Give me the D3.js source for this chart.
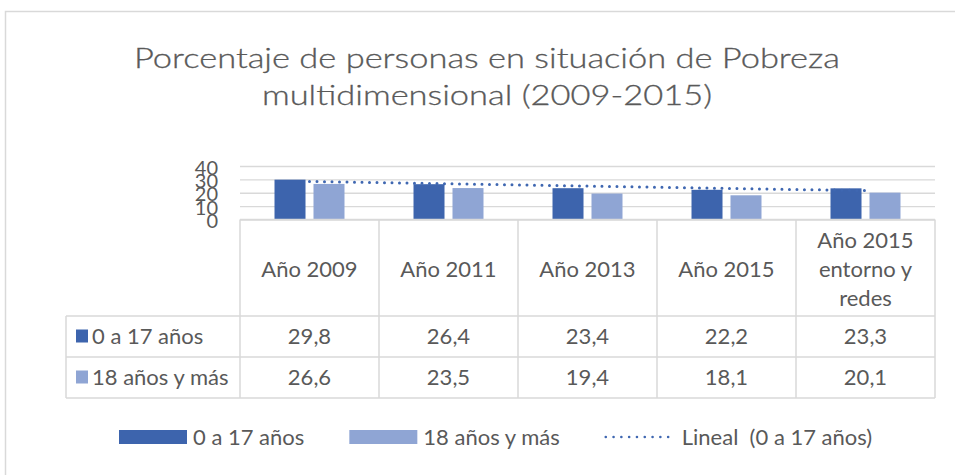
<!DOCTYPE html>
<html>
<head>
<meta charset="utf-8">
<script src="https://cdn.jsdelivr.net/npm/d3@7"></script>
<style>
  body { margin: 0; background: #fff; }
  text { font-family: Lato, sans-serif; fill: #595959; }
</style>
</head>
<body>
<svg width="955" height="475"></svg>
<script>

let categories = ['Año 2009', 'Año 2011', 'Año 2013', 'Año 2015', 'Año 2015 entorno y redes'];
let seriesNames = ['0 a 17 años', '18 años y más'];
let youngValues = [29.8, 26.4, 23.4, 22.2, 23.3];
let adultValues = [26.6, 23.5, 19.4, 18.1, 20.1];
let yTicks = [0, 10, 20, 30, 40];
let trendName = 'Lineal  (0 a 17 años)';
let titleLines = ['Porcentaje de personas en situación de Pobreza', 'multidimensional (2009-2015)'];

let colors = ['#3d64ad', '#8fa5d4'];
let lineColor = '#d9d9d9';

let svg = d3.select('svg');
let fmt = d3.formatLocale({decimal: ',', thousands: '.', grouping: [3], currency: ['', '']}).format('.1f');

// chart frame
svg.append('rect')
   .attr('x', 5.5)
   .attr('y', 11.5)
   .attr('width', 1000)
   .attr('height', 500)
   .attr('fill', 'none')
   .attr('stroke', lineColor)
   .attr('stroke-width', 1.5);

// title, stretched a little to the width of the original
let titles = svg.append('g')
                .selectAll('text')
                .data(titleLines)
                .join('text')
                .attr('x', 487)
                .attr('y', (d, i) => 68 + i * 37)
                .attr('text-anchor', 'middle')
                .style('font-size', '27px')
                .style('font-weight', 300)
                .attr('stroke', '#595959')
                .attr('stroke-width', 0.3)
                .text(d => d);

let stretch = 706 / titles.nodes()[0].getComputedTextLength();
titles.each(function() {
  let len = this.getComputedTextLength();
  d3.select(this)
    .attr('textLength', len * stretch)
    .attr('lengthAdjust', 'spacingAndGlyphs');
});

let xScale = d3.scaleBand()
               .domain(categories)
               .range([240, 935]);

let xInner = d3.scaleBand()
               .domain(seriesNames)
               .range([0, xScale.bandwidth()])
               .paddingInner(0.205)
               .paddingOuter(0.885);

let yScale = d3.scaleLinear()
               .domain([0, 40])
               .range([219.5, 166]);

let yAxis = d3.axisLeft(yScale)
              .tickValues(yTicks)
              .tickSize(-(935 - 240))
              .tickPadding(22)
              .tickFormat(d3.format('d'));

let yAxisG = svg.append('g')
                .attr('id', 'yAxisG')
                .attr('transform', 'translate(240,0)')
                .call(yAxis);

yAxisG.select('.domain').remove();
yAxisG.attr('font-family', null).attr('font-size', null);
yAxisG.selectAll('line').attr('stroke', lineColor).attr('stroke-width', 1.3);
yAxisG.selectAll('text').style('font-size', '20px').attr('fill', '#595959').attr('dy', '0.4em');

// bars
let seriesData = [youngValues, adultValues];
seriesData.forEach(function(values, s) {
  svg.append('g')
     .selectAll('rect')
     .data(values)
     .join('rect')
     .attr('x', (d, i) => xScale(categories[i]) + xInner(seriesNames[s]))
     .attr('y', d => yScale(d))
     .attr('width', xInner.bandwidth())
     .attr('height', d => yScale(0) - yScale(d))
     .attr('fill', colors[s]);
});

// linear trend of first series
let n = youngValues.length;
let meanX = (n + 1) / 2;
let meanY = d3.mean(youngValues);
let slope = d3.sum(youngValues, (v, i) => (i + 1 - meanX) * (v - meanY)) /
            d3.sum(youngValues, (v, i) => (i + 1 - meanX) * (i + 1 - meanX));
let trend = [1, n].map(k => ({k: k, v: meanY + slope * (k - meanX)}));

let trendLine = d3.line()
                  .x(d => xScale(categories[d.k - 1]) + xScale.bandwidth() / 2)
                  .y(d => yScale(d.v));

svg.append('path')
   .attr('d', trendLine(trend))
   .attr('fill', 'none')
   .attr('stroke', '#3f67b1')
   .attr('stroke-width', 3)
   .attr('stroke-linecap', 'round')
   .attr('stroke-dasharray', '0 7.5');

// data table
let headerBottom = 316;
let rowH = 41;
let keyLeft = 66;
let tableRight = 935;
let tableTop = yScale(0);
let tableBottom = headerBottom + rowH * seriesNames.length;

let grid = svg.append('g')
              .attr('stroke', lineColor)
              .attr('stroke-width', 1.5);

grid.append('line')
    .attr('x1', 240).attr('x2', tableRight)
    .attr('y1', tableTop).attr('y2', tableTop);

[0, 1, 2].forEach(function(r) {
  grid.append('line')
      .attr('x1', keyLeft).attr('x2', tableRight)
      .attr('y1', headerBottom + r * rowH).attr('y2', headerBottom + r * rowH);
});

categories.concat(['end']).forEach(function(c) {
  let x = c == 'end' ? tableRight : xScale(c);
  grid.append('line')
      .attr('x1', x).attr('x2', x)
      .attr('y1', tableTop).attr('y2', tableBottom);
});

grid.append('line')
    .attr('x1', keyLeft).attr('x2', keyLeft)
    .attr('y1', headerBottom).attr('y2', tableBottom);

// header labels, wrapped to the column
let headerG = svg.append('g').style('font-size', '22px');
categories.forEach(function(c) {
  let t = headerG.append('text')
                 .attr('x', xScale(c) + xScale.bandwidth() / 2)
                 .attr('text-anchor', 'middle');
  let words = c.split(' ');
  let lines = [];
  let current = [];
  words.forEach(function(w) {
    let test = current.concat([w]).join(' ');
    t.text(test);
    if (t.node().getComputedTextLength() > xScale.bandwidth() - 14 && current.length) {
      lines.push(current.join(' '));
      current = [w];
    } else {
      current.push(w);
    }
  });
  lines.push(current.join(' '));
  t.text(null);
  let mid = (tableTop + headerBottom) / 2 + 1;
  lines.forEach(function(l, i) {
    t.append('tspan')
     .attr('x', xScale(c) + xScale.bandwidth() / 2)
     .attr('y', mid + (i - (lines.length - 1) / 2) * 29)
     .attr('dy', '0.36em')
     .text(l);
  });
});

// rows
seriesData.forEach(function(values, s) {
  let cy = headerBottom + s * rowH + rowH / 2;
  let row = svg.append('g').style('font-size', '22px');
  row.append('rect')
     .attr('x', 76)
     .attr('y', cy - 7)
     .attr('width', 12)
     .attr('height', 13)
     .attr('fill', colors[s]);
  row.append('text')
     .attr('x', 92)
     .attr('y', cy)
     .attr('dy', '0.36em')
     .text(seriesNames[s]);
  row.selectAll('.val')
     .data(values)
     .join('text')
     .attr('class', 'val')
     .attr('x', (d, i) => xScale(categories[i]) + xScale.bandwidth() / 2)
     .attr('y', cy)
     .attr('dy', '0.36em')
     .attr('text-anchor', 'middle')
     .text(d => fmt(d));
});

// legend
let legend = svg.append('g').style('font-size', '22px');
let lx = 119;
let ly = 437;
let items = [
  {name: seriesNames[0], type: 'rect', color: colors[0], w: 68},
  {name: seriesNames[1], type: 'rect', color: colors[1], w: 68},
  {name: trendName, type: 'line', color: '#3f67b1', w: 64}
];
items.forEach(function(it) {
  if (it.type == 'rect') {
    legend.append('rect')
          .attr('x', lx).attr('y', ly - 7)
          .attr('width', it.w).attr('height', 14)
          .attr('fill', it.color);
  } else {
    legend.append('line')
          .attr('x1', lx + 1).attr('x2', lx + it.w)
          .attr('y1', ly).attr('y2', ly)
          .attr('stroke', it.color)
          .attr('stroke-width', 2.6)
          .attr('stroke-linecap', 'round')
          .attr('stroke-dasharray', '0 7.8');
  }
  let t = legend.append('text')
                .attr('x', lx + it.w + (it.type == 'rect' ? 6 : 13))
                .attr('y', ly)
                .attr('dy', '0.36em')
                .style('white-space', 'pre')
                .text(it.name);
  lx = lx + it.w + (it.type == 'rect' ? 6 : 13) + t.node().getComputedTextLength() + 45;
});

</script>
</body>
</html>
